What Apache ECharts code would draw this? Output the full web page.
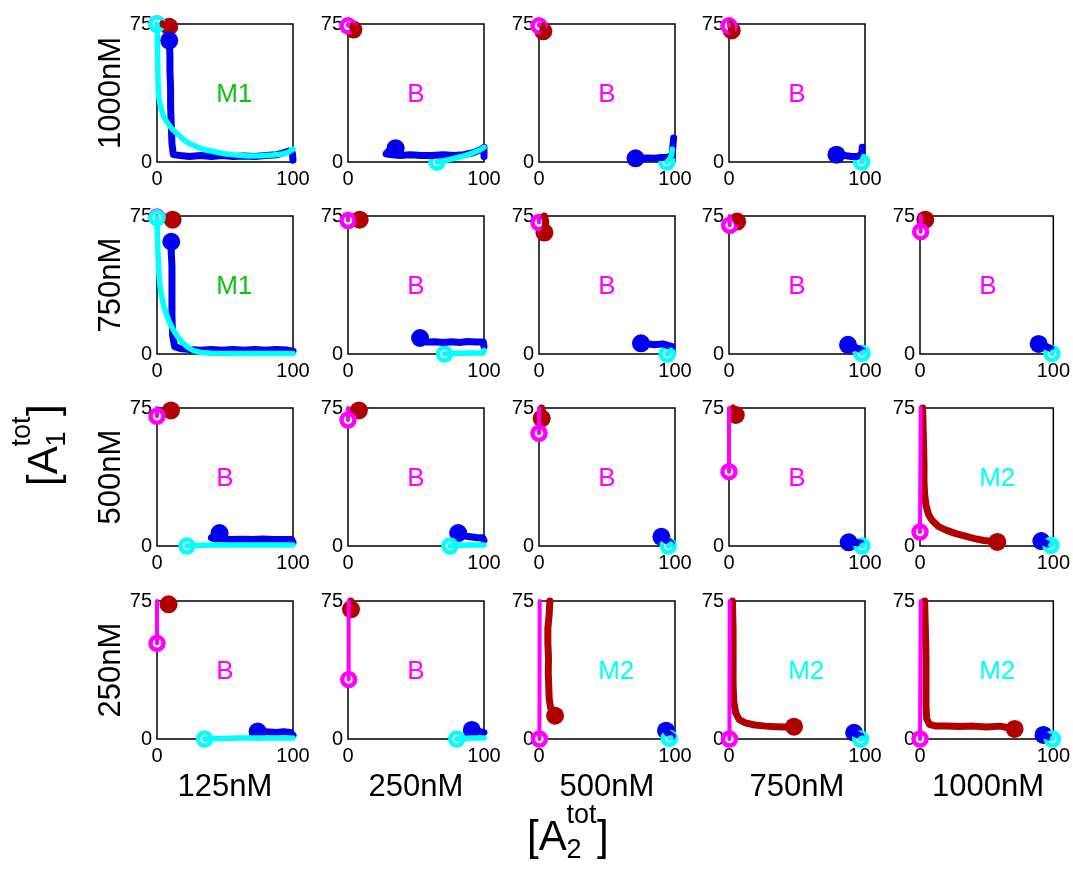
<!DOCTYPE html>
<html><head><meta charset="utf-8">
<script src="https://cdn.jsdelivr.net/npm/echarts@6/dist/echarts.min.js"></script>
<style>html,body{margin:0;padding:0;background:#fff}#c{width:1073px;height:871px}</style>
</head><body><div id="c"></div>
<script>
// ---------- categories / ticks ----------
const rowLabels = ['1000nM', '750nM', '500nM', '250nM'];   // [A1tot]
const colLabels = ['125nM', '250nM', '500nM', '750nM', '1000nM']; // [A2tot]
const xTicks = [0, 100];
const yTicks = [0, 75];

// ---------- regime per panel ----------
const regime_1000nM = ['M1', 'B', 'B', 'B', null];
const regime_750nM  = ['M1', 'B', 'B', 'B', 'B'];
const regime_500nM  = ['B', 'B', 'B', 'B', 'M2'];
const regime_250nM  = ['B', 'B', 'M2', 'M2', 'M2'];

// ---------- dark red trajectories (end = filled dot) ----------
const red_1000nM = [
  [[4,75],[7,74],[9,73.5]],
  [[3,74],[4,72]],
  [[2.5,74],[3.2,71]],
  [[1,75],[2,71.5]],
  null];
const red_750nM = [
  [[11,74],[11.5,73]],
  [[8,74],[8.6,73]],
  [[4,75],[5,72],[4,66]],
  [[5,73.5],[6,72]],
  [[4,75],[4,73]]];
const red_500nM = [
  [[9,74.5],[10.3,73.7]],
  [[7,74.5],[8,73.7]],
  [[2,75],[3,72],[2,69.4]],
  [[3,75],[5,73],[5,71.2]],
  [[2,75],[2.5,60],[3,45],[3,35],[3.5,28],[4.5,22],[6.5,17],[9,14],[14,10.5],[20,8.5],[27,6.7],[34,5.3],[41,4],[48,3],[55,2.5],[58,2.2]]];
const red_250nM = [
  [[7,74.5],[8.5,73.2]],
  [[2,75],[2,72],[2.2,70.5]],
  [[8,75],[7.5,68],[6.5,60],[6.5,52],[7,44],[6.8,36],[7.2,28],[7.5,22],[8.5,17],[11.8,12.7]],
  [[2.5,75],[3,60],[3,45],[3,30],[3.5,20],[5,14],[7.5,10.5],[12,8.8],[19,7.6],[27,7],[34,6.7],[41,6.5],[47.8,6.7]],
  [[3.5,75],[4,60],[4.5,45],[4.5,30],[4.5,18],[5,11],[7,8],[12,7],[20,7],[30,6.8],[40,7],[50,6.5],[60,7],[67,6],[71,5.5]]];

// ---------- blue trajectories (end = filled dot) ----------
const blue_1000nM = [
  [[100,1],[99.5,5],[97,6],[93,5],[88,4],[80,3.5],[72,3],[64,3.3],[56,3],[48,3.5],[40,3],[32,3.5],[24,3],[17,3.5],[12,4],[11,10],[10.5,20],[10,30],[10,40],[9.5,50],[9.5,58],[9,66]],
  [[100,3],[100,8],[97,6.5],[92,5],[85,4],[78,3.5],[70,4],[62,3.5],[54,3.5],[46,4],[38,3.5],[31,4],[28,4.5],[30,6],[35,7.5]],
  [[99,13],[98.5,9],[98,4],[95,2.5],[90,2.5],[85,2],[80,2.2],[75,2],[71,2]],
  [[98,8],[97.5,4],[94,3],[90,3],[85,3.5],[79,4]],
  null];
const blue_750nM = [
  [[100,1.5],[95,2.2],[88,2.5],[80,2],[72,2.5],[64,2],[56,2.5],[48,2],[40,2.5],[32,2],[24,2.5],[17,3],[13,4],[11.5,10],[11,20],[11,30],[11,40],[11,48],[10.5,55],[10.5,61]],
  [[100,4],[99.5,6.5],[94,6.5],[88,6.8],[82,6.3],[76,6.7],[70,6.3],[64,6.6],[58,6.5],[55,7],[53,8.7]],
  [[98,4],[97,5],[91,5.5],[85,5],[80,5.5],[75,5.8]],
  [[98,2],[95,3],[91,4],[87.5,5]],
  [[98,3],[95,4],[92,5],[89,5.5]]];
const blue_500nM = [
  [[100,2],[99,3.5],[92,3.5],[85,3.5],[78,3.8],[70,3.5],[62,3.7],[55,3.5],[48,3.8],[42,4],[40,4.5],[43,6],[46,7]],
  [[100,3],[99,4.5],[95,4.5],[90,5],[85,5.5],[81,7]],
  [[97,1.5],[94,3],[90,5]],
  [[97,1.5],[92,2],[88,2]],
  [[96,1],[93,2],[91,2.7]]];
const blue_250nM = [
  [[100,2],[98,3.5],[93,4],[88,3.5],[83,3.8],[78,4],[74,4.1]],
  [[100,3.5],[97,4],[94,4.5],[91,4.9]],
  [[98,1.5],[95,3],[93.4,4.5]],
  [[97,1.5],[94,2.5],[92,3.4]],
  [[97,1],[94,2],[92.6,2.2]]];

// ---------- magenta lines (end = open ring) ----------
const magenta_1000nM = [[[0,75],[0,75]], [[0,75],[0,74]], [[0,75],[0,74]], [[0,75],[0,74]], null];
const magenta_750nM  = [[[0,75],[0,74.5]], [[0,75],[0,72.5]], [[0,75],[0,71.5]], [[0.5,75],[0.5,70]], [[0.5,75],[0.5,66.5]]];
const magenta_500nM  = [[[0,75],[0,70.5]], [[0,75],[0,68.5]], [[0,75],[0,61.3]], [[0,75],[0,40.4]], [[0.5,75],[0,7.6]]];
const magenta_250nM  = [[[0,75],[0,52]], [[0.5,75],[0.5,32.3]], [[0.5,75],[0.3,0]], [[0.5,75],[0.3,0]], [[0.5,75],[0,0]]];

// ---------- cyan lines (end = open ring) ----------
const cyan_1000nM = [
  [[100,7],[97,5.5],[92,4.3],[85,3.8],[76,3.4],[68,3.3],[60,3.6],[51,4.3],[44,5.3],[36.5,6.5],[30,8],[24,10],[19,12.5],[14.5,15.6],[11,18],[8,21],[5,24.5],[3.4,28],[2,32],[1,37],[0.7,45],[0.5,55],[0.3,65],[0,75]],
  [[100,8],[97,6.5],[92,5],[86,3.5],[80,2.3],[74,1.3],[69,0.5],[65.5,0]],
  [[98,7],[97.5,4],[96,1.5],[94,0]],
  [[99,3],[97.5,0]],
  null];
const cyan_750nM = [
  [[100,0.3],[85,0.3],[70,0.3],[55,0.3],[40,0.4],[32,0.8],[27,1.8],[23,3.5],[19,6],[15,9.5],[12,13],[9,17.5],[7,21.5],[5,26],[3.5,31],[2,38],[1.2,46],[0.7,55],[0.3,65],[0,74]],
  [[100,2],[99.5,0.5],[90,0.5],[80,0.4],[71,0]],
  [[97,2],[94.3,0]],
  [[99,1],[97.8,0.4]],
  [[99.5,1],[99,0.3]]];
const cyan_500nM = [
  [[100,0.5],[80,0.5],[60,0.5],[40,0.5],[22,0]],
  [[100,0.5],[90,0.5],[80,0.4],[75,0]],
  [[97,1],[95,0]],
  [[98.5,0.5],[97.8,0]],
  [[99,1],[98.2,0.4]]];
const cyan_250nM = [
  [[100,0.5],[80,0.5],[60,0.5],[35,0]],
  [[100,0.5],[90,0.5],[80,0]],
  [[97,0.5],[95.8,0.4]],
  [[98,0.5],[96.8,0]],
  [[99.5,0.5],[99.3,0]]];

// ---------- build ----------
const REGIMES = [regime_1000nM, regime_750nM, regime_500nM, regime_250nM];
const REDS = [red_1000nM, red_750nM, red_500nM, red_250nM];
const BLUES = [blue_1000nM, blue_750nM, blue_500nM, blue_250nM];
const MAGS = [magenta_1000nM, magenta_750nM, magenta_500nM, magenta_250nM];
const CYANS = [cyan_1000nM, cyan_750nM, cyan_500nM, cyan_250nM];

const FONT = '"Liberation Sans", Arial, Helvetica, sans-serif';
const RED = '#b00000', BLUE = '#0000ee', MAG = '#ff00ff', CYAN = '#00ffff';
const REGCOLOR = { M1: '#10c010', B: '#ff00ff', M2: '#00ffff' };

const colLeft = [157, 348, 539, 729, 920];
const rowTop = [24, 216, 408, 601];
const W = 136, H = 138;

const grids = [], xAxes = [], yAxes = [], series = [], graphics = [];

function addTrace(idx, data, color, width, kind) {
  if (!data) return;
  series.push({ type: 'line', xAxisIndex: idx, yAxisIndex: idx, data: data, symbol: 'none', showSymbol: false,
    clip: false, silent: true, animation: false,
    lineStyle: { color: color, width: width, cap: 'round', join: 'round', opacity: 1 } });
  const last = [data[data.length - 1]];
  if (kind === 'dot') {
    series.push({ type: 'scatter', xAxisIndex: idx, yAxisIndex: idx, data: last, symbol: 'circle', symbolSize: 18,
      clip: false, silent: true, animation: false, itemStyle: { color: color, opacity: 1 } });
  } else {
    series.push({ type: 'scatter', xAxisIndex: idx, yAxisIndex: idx, data: last, symbol: 'circle', symbolSize: 13,
      clip: false, silent: true, animation: false, itemStyle: { color: '#fff', borderColor: color, borderWidth: 4.5, opacity: 1 } });
    series.push({ type: 'scatter', xAxisIndex: idx, yAxisIndex: idx, data: last, symbol: 'circle', symbolSize: 3,
      clip: false, silent: true, animation: false, itemStyle: { color: color === MAG ? '#700000' : '#000080', opacity: 1 } });
  }
}

let idx = 0;
for (let r = 0; r < 4; r++) {
  for (let c = 0; c < 5; c++) {
    if (!REGIMES[r][c]) continue;
    const left = colLeft[c], top = rowTop[r];
    grids.push({ left: left, top: top, width: W, height: H, show: true, borderColor: '#000', borderWidth: 1.5, backgroundColor: '#fff' });
    xAxes.push({ gridIndex: idx, type: 'value', min: xTicks[0], max: xTicks[1], interval: xTicks[1] - xTicks[0],
      axisLine: { show: false }, axisTick: { show: false }, splitLine: { show: false },
      axisLabel: { color: '#000', fontSize: 20, fontFamily: FONT, margin: 7 } });
    yAxes.push({ gridIndex: idx, type: 'value', min: yTicks[0], max: yTicks[1], interval: yTicks[1] - yTicks[0],
      axisLine: { show: false }, axisTick: { show: false }, splitLine: { show: false },
      axisLabel: { color: '#000', fontSize: 20, fontFamily: FONT, margin: 5 } });
    addTrace(idx, REDS[r][c], RED, 7, 'dot');
    addTrace(idx, BLUES[r][c], BLUE, 7, 'dot');
    addTrace(idx, MAGS[r][c], MAG, 4, 'ring');
    addTrace(idx, CYANS[r][c], CYAN, 5.5, 'ring');
    const reg = REGIMES[r][c];
    graphics.push({ type: 'text', x: left + 0.435 * W, y: top + 0.51 * H, z: 100,
      style: { text: reg, fill: REGCOLOR[reg], font: '26px ' + FONT, align: 'left', verticalAlign: 'middle' } });
    idx++;
  }
}

// row labels (rotated)
rowLabels.forEach((t, r) => {
  graphics.push({ type: 'text', x: 111, y: rowTop[r] + H / 2, rotation: Math.PI / 2,
    style: { text: t, fill: '#000', font: '31px ' + FONT, align: 'center', verticalAlign: 'middle' } });
});
// column labels
colLabels.forEach((t, c) => {
  graphics.push({ type: 'text', x: colLeft[c] + W / 2, y: 787,
    style: { text: t, fill: '#000', font: '31px ' + FONT, align: 'center', verticalAlign: 'middle' } });
});

function axisTitle(sub, x, y, rot) {
  const F = 42, S = 27;
  return { type: 'group', x: x, y: y, rotation: rot, children: [
    { type: 'text', x: -41, y: 0, style: { text: '[A', fill: '#000', font: F + 'px ' + FONT, align: 'left', verticalAlign: 'middle' } },
    { type: 'text', x: -1.5, y: -22, style: { text: 'tot', fill: '#000', font: S + 'px ' + FONT, align: 'left', verticalAlign: 'middle' } },
    { type: 'text', x: -1.5, y: 13, style: { text: sub, fill: '#000', font: S + 'px ' + FONT, align: 'left', verticalAlign: 'middle' } },
    { type: 'text', x: 29, y: 0, style: { text: ']', fill: '#000', font: F + 'px ' + FONT, align: 'left', verticalAlign: 'middle' } }
  ]};
}
graphics.push(axisTitle('2', 568, 838, 0));
graphics.push(axisTitle('1', 45, 445, Math.PI / 2));

const chart = echarts.init(document.getElementById('c'), null, { renderer: 'canvas' });
chart.setOption({
  animation: false,
  backgroundColor: '#fff',
  grid: grids, xAxis: xAxes, yAxis: yAxes, series: series,
  graphic: graphics
});
</script></body></html>
